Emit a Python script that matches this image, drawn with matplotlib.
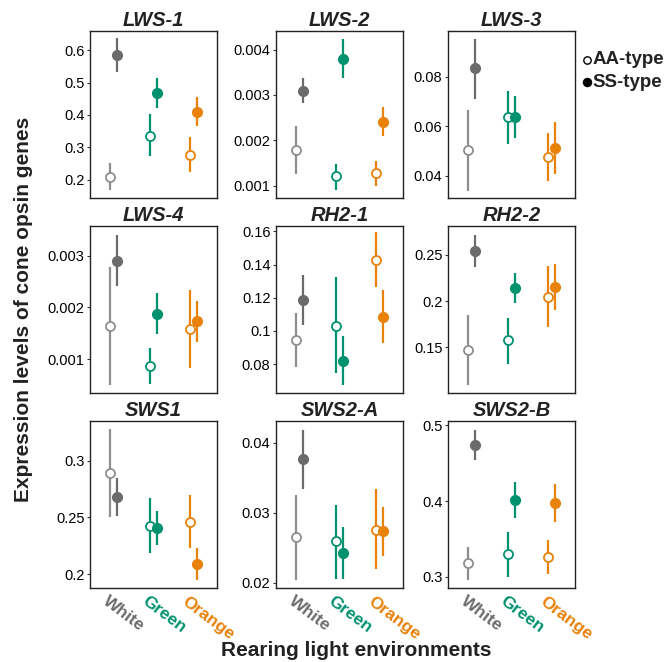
import matplotlib
matplotlib.use("Agg")
import matplotlib.pyplot as plt
import matplotlib.transforms as mtransforms
import numpy as np

plt.rcParams['font.family'] = ['Liberation Sans', 'DejaVu Sans']

genes = ['LWS-1', 'LWS-2', 'LWS-3', 'LWS-4', 'RH2-1', 'RH2-2', 'SWS1', 'SWS2-A', 'SWS2-B']
envs = ['White', 'Green', 'Orange']
env_colors = ['#6b6b6b', '#00916f', '#e8820a']
aa_colors = ['#8e8e8e', '#00916f', '#e8820a']

# values per gene: [White, Green, Orange]
aa_mean = [[0.21, 0.336, 0.277], [0.00179, 0.00121, 0.00127], [0.0502, 0.0636, 0.0475],
           [0.00164, 0.00087, 0.00158], [0.0948, 0.1031, 0.143], [0.1471, 0.1578, 0.2049],
           [0.2894, 0.2426, 0.2456], [0.0266, 0.0259, 0.0275], [0.3177, 0.3299, 0.3264]]
aa_low = [[0.169, 0.272, 0.224], [0.00126, 0.0009, 0.0010], [0.034, 0.0529, 0.038],
          [0.0005, 0.00052, 0.00082], [0.0784, 0.0748, 0.1267], [0.1095, 0.132, 0.1721],
          [0.2508, 0.2182, 0.2226], [0.0204, 0.0206, 0.0219], [0.2956, 0.300, 0.3031]]
aa_high = [[0.252, 0.402, 0.331], [0.00232, 0.00148, 0.00154], [0.0665, 0.0744, 0.0573],
           [0.00279, 0.00122, 0.00234], [0.111, 0.1322, 0.1597], [0.1848, 0.1823, 0.2378],
           [0.3279, 0.2676, 0.2697], [0.0326, 0.0311, 0.0334], [0.3396, 0.3594, 0.3484]]
ss_mean = [[0.585, 0.469, 0.409], [0.00309, 0.0038, 0.00241], [0.0834, 0.0638, 0.0514],
           [0.0029, 0.00188, 0.00173], [0.1189, 0.082, 0.1085], [0.2539, 0.214, 0.2151],
           [0.2682, 0.2408, 0.2088], [0.0377, 0.0243, 0.0274], [0.4745, 0.4012, 0.3977]]
ss_low = [[0.533, 0.422, 0.365], [0.00283, 0.00337, 0.0021], [0.0712, 0.0553, 0.0408],
          [0.00242, 0.00148, 0.00134], [0.1036, 0.0674, 0.0925], [0.2367, 0.1982, 0.1909],
          [0.2514, 0.2256, 0.1947], [0.0334, 0.0206, 0.0238], [0.4538, 0.377, 0.3727]]
ss_high = [[0.636, 0.515, 0.455], [0.00337, 0.00424, 0.00273], [0.0954, 0.0724, 0.0616],
           [0.0034, 0.00228, 0.00213], [0.1335, 0.0968, 0.1245], [0.2715, 0.2305, 0.2403],
           [0.2853, 0.2556, 0.2232], [0.0419, 0.028, 0.0308], [0.4943, 0.4245, 0.4224]]

yticks = [[0.2, 0.3, 0.4, 0.5, 0.6], [0.001, 0.002, 0.003, 0.004], [0.04, 0.06, 0.08],
          [0.001, 0.002, 0.003], [0.08, 0.1, 0.12, 0.14, 0.16], [0.15, 0.2, 0.25],
          [0.2, 0.25, 0.3], [0.02, 0.03, 0.04], [0.3, 0.4, 0.5]]
ylims = [(0.144, 0.659), (0.00073, 0.00441), (0.031, 0.0985),
         (0.00035, 0.00358), (0.0628, 0.1634), (0.1012, 0.2815),
         (0.1874, 0.335), (0.0192, 0.0431), (0.2847, 0.5053)]

fig = plt.figure(figsize=(6.69, 6.62), dpi=100)
lefts = [0.1345, 0.4126, 0.6697]
bottoms = [0.7009, 0.4068, 0.1113]
w, h = 0.1898, 0.2523
x = np.arange(1, 4)
dx = 0.085
shift = mtransforms.ScaledTranslation(-5 / 100, 0, fig.dpi_scale_trans)

for i, gene in enumerate(genes):
    r, c = divmod(i, 3)
    ax = fig.add_axes([lefts[c], bottoms[r], w, h])
    for j in range(3):
        # AA-type: open circle, left
        ax.plot([x[j] - dx] * 2, [aa_low[i][j], aa_high[i][j]], color=aa_colors[j], lw=1.6,
                solid_capstyle='butt', zorder=2)
        ax.plot(x[j] - dx, aa_mean[i][j], 'o', ms=6.5, mfc='white', mec=aa_colors[j], mew=1.3, zorder=3)
        # SS-type: filled circle, right
        ax.plot([x[j] + dx] * 2, [ss_low[i][j], ss_high[i][j]], color=env_colors[j], lw=1.6,
                solid_capstyle='butt', zorder=2)
        ax.plot(x[j] + dx, ss_mean[i][j], 'o', ms=7, mfc=env_colors[j], mec=env_colors[j], mew=1, zorder=3)
    ax.set_xlim(0.4, 3.6)
    ax.set_ylim(*ylims[i])
    ax.set_yticks(yticks[i])
    ax.set_yticklabels(['%g' % v for v in yticks[i]])
    ax.tick_params(axis='y', labelsize=10.5, length=2.5, width=0.8, pad=1.5, color='#333333')
    ax.set_title(gene, fontsize=14.5, fontweight='bold', style='italic', pad=3.5, color='#222222')
    for sp in ax.spines.values():
        sp.set_linewidth(1.0)
        sp.set_color('#222222')
    ax.set_xticks(x)
    if r == 2:
        ax.set_xticklabels(envs)
        ax.tick_params(axis='x', length=0, pad=4)
        for lab, col in zip(ax.get_xticklabels(), env_colors):
            lab.set_color(col)
            lab.set_fontweight('bold')
            lab.set_fontsize(12.5)
            lab.set_rotation(-37)
            lab.set_rotation_mode('anchor')
            lab.set_ha('left')
            lab.set_va('top')
            lab.set_transform(lab.get_transform() + shift)
    else:
        ax.set_xticklabels([])
        ax.tick_params(axis='x', length=0)

fig.text(0.035, 0.533, 'Expression levels of cone opsin genes', rotation=90, ha='center', va='center',
         fontsize=15, fontweight='bold', color='#222222')
fig.text(0.532, 0.018, 'Rearing light environments', ha='center', va='center',
         fontsize=15, fontweight='bold', color='#222222')

# legend
fig.lines.append(plt.Line2D([0.877], [0.910], marker='o', ms=5.3, mfc='white', mec='black', mew=1,
                            transform=fig.transFigure))
fig.lines.append(plt.Line2D([0.877], [0.876], marker='o', ms=5.8, mfc='black', mec='black',
                            transform=fig.transFigure))
fig.text(0.886, 0.910, 'AA-type', ha='left', va='center', fontsize=13.5, fontweight='bold', color='#222222')
fig.text(0.886, 0.876, 'SS-type', ha='left', va='center', fontsize=13.5, fontweight='bold', color='#222222')

fig.savefig('out.png', dpi=100)
